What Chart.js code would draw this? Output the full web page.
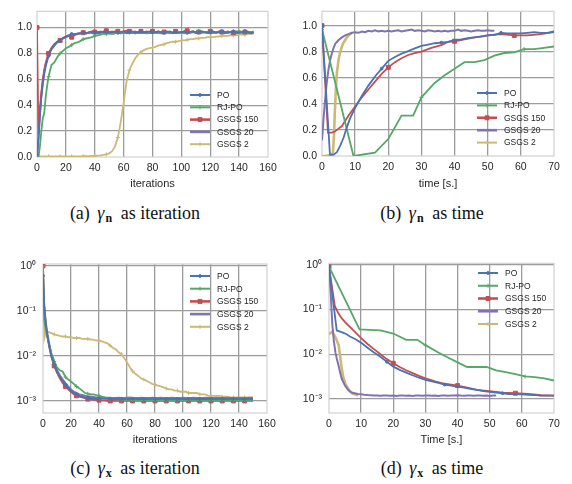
<!DOCTYPE html>
<html>
<head>
<meta charset="utf-8">
<script src="https://cdn.jsdelivr.net/npm/chart.js@4.4.1/dist/chart.umd.min.js"></script>
<style>
  body { margin: 0; background: #fff; width: 572px; height: 484px; position: relative; overflow: hidden; }
  canvas { position: absolute; }
  .cap { position: absolute; text-align: center; font: 18px "Liberation Serif", "Times New Roman", serif; color: #111; line-height: 20px; white-space: nowrap; }
  .cap i { margin: 0 1px 0 3px; }
  .cap sub { font-size: 12px; font-weight: bold; vertical-align: -3px; margin-right: 4px; }
</style>
</head>
<body>
<canvas id="chartA" width="282" height="195" style="left:0;top:0"></canvas>
<canvas id="chartB" width="287" height="195" style="left:285px;top:0"></canvas>
<canvas id="chartC" width="282" height="201" style="left:0;top:250px"></canvas>
<canvas id="chartD" width="287" height="201" style="left:285px;top:250px"></canvas>
<div class="cap" style="left:0;width:270px;top:203px">(a) <i>γ</i><sub>n</sub> as iteration</div>
<div class="cap" style="left:292px;width:280px;top:203px">(b) <i>γ</i><sub>n</sub> as time</div>
<div class="cap" style="left:0;width:270px;top:458px">(c) <i>γ</i><sub>x</sub> as iteration</div>
<div class="cap" style="left:292px;width:280px;top:458px">(d) <i>γ</i><sub>x</sub> as time</div>
<script>
// 系列名称
const labels = ['PO', 'RJ-PO', 'GSGS 150', 'GSGS 20', 'GSGS 2'];

// 迭代次数（a、c 两图共用）
const iterations = [0, 1, 2, 3, 4, 5, 6, 7, 8,
  10, 12, 14, 16, 18, 20, 22, 24, 26, 28, 30,
  32, 34, 36, 38, 40, 42, 44, 46, 48, 50,
  52, 54, 56, 58, 60, 62, 64, 66, 68, 70,
  72, 74, 76, 78, 80, 82, 84, 86, 88, 90,
  92, 94, 96, 98, 100, 102, 104, 106, 108, 110,
  112, 114, 116, 118, 120, 122, 124, 126, 128, 130,
  132, 134, 136, 138, 140, 142, 144, 146, 148, 150];

// (a) γn 随迭代
const poGammaNIter = [0.02, 0.15, 0.32, 0.46, 0.56, 0.64, 0.70, 0.74, 0.78,
  0.83, 0.86, 0.885, 0.90, 0.915, 0.925, 0.935, 0.95, 0.945, 0.955, 0.955,
  0.96, 0.955, 0.96, 0.965, 0.96, 0.965, 0.96, 0.97, 0.965, 0.96,
  0.965, 0.97, 0.96, 0.965, 0.97, 0.96, 0.965, 0.97, 0.96, 0.965,
  0.97, 0.96, 0.965, 0.97, 0.965, 0.96, 0.97, 0.965, 0.96, 0.965,
  0.97, 0.96, 0.965, 0.96, 0.965, 0.97, 0.96, 0.965, 0.97, 0.96,
  0.965, 0.97, 0.965, 0.96, 0.965, 0.97, 0.96, 0.965, 0.97, 0.965,
  0.96, 0.965, 0.97, 0.965, 0.96, 0.965, 0.97, 0.965, 0.96, 0.965];
const rjpoGammaNIter = [0.0, 0.0, 0.08, 0.2, 0.3, 0.34, 0.46, 0.55, 0.62,
  0.71, 0.73, 0.77, 0.8, 0.82, 0.84, 0.85, 0.865, 0.88, 0.885, 0.895,
  0.91, 0.915, 0.92, 0.925, 0.935, 0.94, 0.945, 0.95, 0.95, 0.955,
  0.95, 0.955, 0.96, 0.955, 0.96, 0.955, 0.96, 0.965, 0.955, 0.96,
  0.965, 0.96, 0.955, 0.96, 0.965, 0.96, 0.955, 0.96, 0.965, 0.96,
  0.955, 0.96, 0.965, 0.96, 0.96, 0.955, 0.96, 0.965, 0.97, 0.965,
  0.975, 0.965, 0.96, 0.965, 0.97, 0.965, 0.96, 0.965, 0.97, 0.965,
  0.96, 0.965, 0.97, 0.965, 0.975, 0.965, 0.97, 0.965, 0.96, 0.97];
const gsgs150GammaNIter = [1.0, 0.18, 0.36, 0.5, 0.6, 0.67, 0.72, 0.76, 0.8,
  0.84, 0.87, 0.89, 0.9, 0.92, 0.93, 0.935, 0.925, 0.94, 0.95, 0.955,
  0.96, 0.955, 0.965, 0.97, 0.965, 0.96, 0.97, 0.965, 0.975, 0.965,
  0.97, 0.96, 0.97, 0.965, 0.97, 0.975, 0.97, 0.965, 0.97, 0.96,
  0.97, 0.965, 0.97, 0.96, 0.97, 0.965, 0.97, 0.96, 0.965, 0.97,
  0.965, 0.96, 0.97, 0.965, 0.96, 0.97, 0.975, 0.965, 0.97, 0.96,
  0.965, 0.97, 0.965, 0.96, 0.97, 0.965, 0.96, 0.97, 0.965, 0.96,
  0.97, 0.965, 0.96, 0.97, 0.965, 0.96, 0.965, 0.97, 0.96, 0.965];
const gsgs20GammaNIter = [0.0, 0.14, 0.33, 0.48, 0.58, 0.66, 0.72, 0.76, 0.79,
  0.84, 0.87, 0.89, 0.905, 0.915, 0.93, 0.94, 0.945, 0.95, 0.95, 0.955,
  0.96, 0.955, 0.96, 0.96, 0.965, 0.955, 0.96, 0.965, 0.96, 0.955,
  0.96, 0.965, 0.96, 0.955, 0.96, 0.965, 0.96, 0.96, 0.955, 0.96,
  0.965, 0.96, 0.955, 0.96, 0.96, 0.965, 0.96, 0.955, 0.96, 0.965,
  0.96, 0.955, 0.96, 0.96, 0.965, 0.96, 0.955, 0.96, 0.965, 0.96,
  0.955, 0.96, 0.965, 0.96, 0.955, 0.96, 0.96, 0.965, 0.96, 0.955,
  0.96, 0.965, 0.96, 0.955, 0.96, 0.965, 0.96, 0.96, 0.955, 0.96];
const gsgs2GammaNIter = [0.55, 0.0, 0.005, 0.005, 0.005, 0.005, 0.005, 0.005, 0.005,
  0.005, 0.005, 0.005, 0.005, 0.005, 0.005, 0.005, 0.005, 0.005, 0.005, 0.005,
  0.006, 0.006, 0.007, 0.008, 0.009, 0.011, 0.013, 0.016, 0.02, 0.028,
  0.045, 0.08, 0.15, 0.27, 0.42, 0.58, 0.67, 0.72, 0.76, 0.79,
  0.81, 0.825, 0.835, 0.84, 0.845, 0.85, 0.86, 0.865, 0.87, 0.88,
  0.885, 0.89, 0.89, 0.895, 0.9, 0.9, 0.905, 0.91, 0.91, 0.915,
  0.915, 0.92, 0.92, 0.925, 0.925, 0.925, 0.93, 0.93, 0.935, 0.935,
  0.935, 0.94, 0.94, 0.94, 0.945, 0.945, 0.945, 0.95, 0.95, 0.95];

// (c) γx 随迭代（对数轴）
const poGammaXIter = [0.6, 0.11, 0.05, 0.03, 0.02, 0.014, 0.01, 0.008, 0.0065,
  0.0046, 0.0035, 0.0028, 0.0023, 0.002, 0.0017, 0.0015, 0.0014, 0.0013, 0.00125, 0.0012,
  0.00118, 0.00116, 0.00115, 0.00114, 0.00113, 0.00113, 0.00112, 0.00112, 0.00112, 0.00111,
  0.00111, 0.00112, 0.00111, 0.00111, 0.0011, 0.00111, 0.00112, 0.00111, 0.0011, 0.00111,
  0.00111, 0.0011, 0.00111, 0.00112, 0.00111, 0.0011, 0.00111, 0.00111, 0.0011, 0.00111,
  0.00112, 0.00111, 0.0011, 0.00111, 0.00111, 0.0011, 0.00111, 0.00112, 0.00111, 0.0011,
  0.00111, 0.00111, 0.0011, 0.00111, 0.00112, 0.00111, 0.0011, 0.00111, 0.00111, 0.0011,
  0.00111, 0.00112, 0.00111, 0.0011, 0.00111, 0.00111, 0.0011, 0.00111, 0.00111, 0.0011];
const rjpoGammaXIter = [1.0, 0.06, 0.04, 0.028, 0.02, 0.015, 0.011, 0.0095, 0.0075,
  0.0056, 0.0048, 0.0045, 0.0034, 0.003, 0.0027, 0.0024, 0.0021, 0.0019, 0.0017, 0.0015,
  0.00145, 0.0014, 0.0014, 0.00135, 0.0013, 0.00125, 0.0012, 0.00115, 0.00112, 0.0011,
  0.00108, 0.00107, 0.00107, 0.00106, 0.00106, 0.00106, 0.00105, 0.00106, 0.00105, 0.00105,
  0.00106, 0.00105, 0.00105, 0.00106, 0.00105, 0.00105, 0.00106, 0.00105, 0.00105, 0.00106,
  0.00105, 0.00105, 0.00106, 0.00105, 0.00105, 0.00106, 0.00105, 0.00105, 0.00106, 0.00105,
  0.00105, 0.00106, 0.00105, 0.00105, 0.00106, 0.00105, 0.00105, 0.00106, 0.00105, 0.00105,
  0.00106, 0.00105, 0.00105, 0.00106, 0.00105, 0.00105, 0.00106, 0.00105, 0.00105, 0.00106];
const gsgs150GammaXIter = [1.0, 0.1, 0.045, 0.028, 0.019, 0.013, 0.0095, 0.0075, 0.006,
  0.0042, 0.0032, 0.0025, 0.0021, 0.0018, 0.0016, 0.0014, 0.0013, 0.00125, 0.0012, 0.00115,
  0.0011, 0.00108, 0.00106, 0.00105, 0.00104, 0.00103, 0.00102, 0.00101, 0.001, 0.001,
  0.001, 0.001, 0.001, 0.001, 0.001, 0.001, 0.001, 0.001, 0.001, 0.001,
  0.001, 0.001, 0.001, 0.001, 0.001, 0.001, 0.001, 0.001, 0.001, 0.001,
  0.001, 0.001, 0.001, 0.001, 0.001, 0.001, 0.001, 0.001, 0.001, 0.001,
  0.001, 0.001, 0.001, 0.001, 0.001, 0.001, 0.001, 0.001, 0.001, 0.001,
  0.001, 0.001, 0.001, 0.001, 0.001, 0.001, 0.001, 0.001, 0.001, 0.001];
const gsgs20GammaXIter = [0.15, 0.12, 0.055, 0.033, 0.022, 0.015, 0.011, 0.0085, 0.007,
  0.0049, 0.0037, 0.003, 0.0025, 0.0021, 0.0018, 0.0016, 0.0015, 0.0014, 0.00135, 0.0013,
  0.00128, 0.00125, 0.00123, 0.0012, 0.0012, 0.00119, 0.00118, 0.00118, 0.00117, 0.00117,
  0.00117, 0.00118, 0.00117, 0.00116, 0.00118, 0.00119, 0.00117, 0.00116, 0.00117, 0.00118,
  0.00117, 0.00116, 0.00117, 0.00118, 0.00117, 0.00116, 0.00118, 0.00117, 0.00116, 0.00117,
  0.00118, 0.00117, 0.00116, 0.00117, 0.00118, 0.00117, 0.00116, 0.00117, 0.00118, 0.00117,
  0.00116, 0.00117, 0.00118, 0.00117, 0.00116, 0.00117, 0.00118, 0.00117, 0.00116, 0.00117,
  0.00118, 0.00117, 0.00116, 0.00117, 0.00118, 0.00117, 0.00116, 0.00117, 0.00118, 0.00117];
const gsgs2GammaXIter = [1.0, 0.025, 0.033, 0.034, 0.034, 0.033, 0.032, 0.031, 0.03,
  0.029, 0.028, 0.027, 0.027, 0.026, 0.026, 0.025, 0.025, 0.025, 0.024, 0.024,
  0.024, 0.023, 0.023, 0.022, 0.022, 0.021, 0.02, 0.019, 0.017, 0.015,
  0.014, 0.012, 0.011, 0.009, 0.0072, 0.0056, 0.0046, 0.004, 0.0036, 0.0032,
  0.003, 0.0028, 0.0026, 0.0024, 0.0023, 0.0022, 0.0021, 0.002, 0.0019, 0.0018,
  0.0018, 0.0017, 0.0017, 0.0016, 0.0016, 0.0016, 0.0015, 0.0015, 0.0015, 0.0015,
  0.0014, 0.0014, 0.0014, 0.0013, 0.0013, 0.0013, 0.0013, 0.0013, 0.00125, 0.00125,
  0.00125, 0.0012, 0.0012, 0.0012, 0.0012, 0.0012, 0.0012, 0.0012, 0.0012, 0.0012];

// (b)(d) 随时间：各算法的采样时刻
const poTime = [0, 2.4, 3.5, 4.5, 5.5, 6.5, 7.5, 8.5,
  10, 12, 14, 16, 18, 20, 22, 24, 26, 28, 30, 32, 34, 36, 38, 40,
  42, 44, 46, 48, 50, 52, 54, 56, 58, 60, 62, 64, 66, 68, 70];
const poGammaNTime = [1.0, 0.01, 0.01, 0.03, 0.08, 0.14, 0.22, 0.29,
  0.37, 0.46, 0.54, 0.61, 0.67, 0.73, 0.76, 0.785, 0.805, 0.825, 0.845, 0.855, 0.865, 0.87, 0.875, 0.89,
  0.895, 0.905, 0.91, 0.915, 0.925, 0.93, 0.945, 0.94, 0.94, 0.94, 0.945, 0.95, 0.945, 0.945, 0.955];
const poGammaXTime = [0.9, 0.034, 0.032, 0.03, 0.028, 0.025, 0.023, 0.021,
  0.018, 0.014, 0.011, 0.0088, 0.0068, 0.0053, 0.0045, 0.0039, 0.0034, 0.003, 0.0027, 0.0025, 0.0023, 0.0021, 0.002, 0.0019,
  0.0018, 0.0017, 0.0016, 0.0015, 0.00145, 0.0014, 0.00135, 0.0013, 0.0013, 0.00128, 0.00125, 0.00123, 0.0012, 0.0012, 0.0012];

const rjpoTime = [0, 9.5, 16, 20, 24, 27.5, 30, 34, 37, 40, 43, 46, 49, 52, 55, 58, 61, 64, 67, 70];
const rjpoGammaNTime = [0.97, 0.0, 0.025, 0.13, 0.31, 0.31, 0.45, 0.56, 0.62, 0.67,
  0.72, 0.72, 0.735, 0.77, 0.79, 0.795, 0.82, 0.82, 0.83, 0.84];
const rjpoGammaXTime = [0.9, 0.036, 0.034, 0.029, 0.021, 0.021, 0.016, 0.011, 0.0085, 0.0066,
  0.0052, 0.0052, 0.0052, 0.0044, 0.004, 0.0036, 0.0032, 0.0031, 0.0029, 0.0026];

const gsgs150Time = [0, 1.8, 3, 4, 5, 6, 8, 10, 12, 14, 16, 18, 20, 22, 24, 26, 28, 30,
  33, 36, 38, 40, 43, 46, 50, 54, 58, 62, 66, 70];
const gsgs150GammaNTime = [1.0, 0.18, 0.18, 0.19, 0.21, 0.23, 0.31, 0.38, 0.45, 0.51, 0.57, 0.63, 0.68, 0.72, 0.75, 0.775, 0.79, 0.8,
  0.83, 0.85, 0.875, 0.88, 0.895, 0.91, 0.925, 0.935, 0.925, 0.925, 0.935, 0.95];
const gsgs150GammaXTime = [0.9, 0.12, 0.08, 0.063, 0.052, 0.044, 0.032, 0.023, 0.017, 0.013, 0.01, 0.0078, 0.0063, 0.0052, 0.0044, 0.0038, 0.0033, 0.0029,
  0.0025, 0.0022, 0.0021, 0.002, 0.0018, 0.0016, 0.0015, 0.0014, 0.00135, 0.0013, 0.00122, 0.0012];

const gsgs20Time = [0, 0.5, 1, 1.5, 2, 2.5, 3, 3.5, 4,
  5, 6, 7, 8, 9, 10, 11, 12, 13, 14, 15, 16, 17, 18, 19, 20, 21, 22, 23, 24,
  25, 26, 27, 28, 29, 30, 31, 32, 33, 34, 35, 36, 37, 38, 39, 40, 41, 42, 43, 44,
  45, 46, 47, 48, 49, 50, 51, 52];
const gsgs20GammaNTime = [0.12, 0.3, 0.45, 0.58, 0.67, 0.74, 0.79, 0.83, 0.86,
  0.89, 0.91, 0.925, 0.935, 0.945, 0.95, 0.945, 0.955, 0.95, 0.96, 0.955, 0.965, 0.955, 0.96, 0.955, 0.96, 0.955, 0.96, 0.965, 0.955,
  0.96, 0.965, 0.97, 0.96, 0.965, 0.96, 0.955, 0.965, 0.96, 0.955, 0.96, 0.955, 0.96, 0.955, 0.96, 0.96, 0.97, 0.96, 0.965, 0.96,
  0.955, 0.96, 0.965, 0.96, 0.96, 0.965, 0.96, 0.96];
const gsgs20GammaXTime = [0.9, 0.25, 0.05, 0.02, 0.011, 0.0075, 0.0055, 0.0038, 0.0028,
  0.002, 0.0016, 0.0014, 0.00135, 0.0013, 0.00128, 0.00125, 0.00123, 0.00122, 0.0012, 0.00121, 0.00119, 0.0012, 0.00121, 0.00119, 0.0012, 0.00118, 0.0012, 0.00121, 0.00119,
  0.0012, 0.00118, 0.0012, 0.00121, 0.00119, 0.0012, 0.00121, 0.00119, 0.0012, 0.00118, 0.0012, 0.00121, 0.00119, 0.0012, 0.00121, 0.00122, 0.0012, 0.00119, 0.0012, 0.00121,
  0.00119, 0.0012, 0.00121, 0.00119, 0.0012, 0.00118, 0.0012, 0.00121];

const gsgs2Time = [0, 1, 2, 3, 3.3, 3.6, 3.9, 4.2, 4.5, 5, 5.5, 6, 6.5, 7, 7.5, 8, 8.5, 9];
const gsgs2GammaNTime = [0.0, 0.0, 0.005, 0.01, 0.03, 0.15, 0.35, 0.52, 0.64, 0.74, 0.8, 0.84, 0.87, 0.89, 0.91, 0.925, 0.935, 0.945];
const gsgs2GammaXTime = [0.028, 0.032, 0.024, 0.016, 0.011, 0.0075, 0.0052, 0.0038, 0.003, 0.0023, 0.0019, 0.0017, 0.0015, 0.0014, 0.0013, 0.0013, 0.00125, 0.0012];

// 刻度
const iterTicks = [0, 20, 40, 60, 80, 100, 120, 140, 160];
const timeTicks = [0, 10, 20, 30, 40, 50, 60, 70];
const gammaNTicks = [0, 0.2, 0.4, 0.6, 0.8, 1.0];
const logTicks = [1, 0.1, 0.01, 0.001];
const logTickLabels = ['10⁰', '10⁻¹', '10⁻²', '10⁻³'];

// 样式
const COLORS = ['#4C72B0', '#55A868', '#C44E52', '#8172B2', '#CCB974'];
const STYLES = ['circle', 'cross', 'rect', false, 'cross'];
const RADII = [1.4, 2, 2.8, 0, 2];
const WIDTHS = [1.8, 1.8, 1.8, 2, 1.8];
const GRID = '#9c9c9c';
const FRAME = '#d0d0d0';
const TEXT = '#262626';
const FONT = '"Liberation Sans", Arial, sans-serif';

// 按 x 间隔放置标记点
function markerRadii(xs, period, r) {
  if (!period || !r) return 0;
  let last = -1;
  return xs.map(x => {
    const k = Math.floor(x / period + 1e-9);
    if (k !== last) { last = k; return r; }
    return 0;
  });
}

function series(i, xs, ys, period, width) {
  return {
    label: labels[i],
    data: xs.map((x, j) => ({ x: x, y: ys[j] })),
    borderColor: COLORS[i],
    backgroundColor: COLORS[i],
    borderWidth: width || WIDTHS[i],
    pointStyle: STYLES[i] || 'circle',
    pointRadius: markerRadii(xs, period, RADII[i]),
    pointBackgroundColor: COLORS[i],
    pointBorderColor: COLORS[i],
    pointBorderWidth: 1,
    pointHoverRadius: 0,
    tension: 0,
    legendIndex: i
  };
}

// 绘图区边框
const framePlugin = {
  id: 'frame',
  beforeDatasetsDraw(chart) {
    const { ctx, chartArea: a } = chart;
    ctx.save();
    ctx.strokeStyle = FRAME;
    ctx.lineWidth = 1.2;
    ctx.strokeRect(a.left, a.top, a.right - a.left, a.bottom - a.top);
    ctx.restore();
  }
};

// 图内图例
const insideLegend = {
  id: 'insideLegend',
  afterDraw(chart, args, opts) {
    const ctx = chart.ctx;
    ctx.save();
    ctx.font = '8.5px ' + FONT;
    ctx.textBaseline = 'middle';
    chart.data.datasets.forEach((ds, n) => {
      const i = ds.legendIndex;
      const y = opts.y + n * opts.step;
      ctx.strokeStyle = COLORS[i];
      ctx.fillStyle = COLORS[i];
      ctx.lineWidth = (i === 2 || i === 3) ? 2.6 : 2;
      ctx.beginPath();
      ctx.moveTo(opts.x, y);
      ctx.lineTo(opts.x + 20, y);
      ctx.stroke();
      if (STYLES[i]) {
        ctx.lineWidth = 1;
        Chart.helpers.drawPoint(ctx, { pointStyle: STYLES[i], radius: RADII[i], rotation: 0, borderWidth: 1 }, opts.x + 10, y);
      }
      ctx.fillStyle = TEXT;
      ctx.fillText(ds.label, opts.x + 27, y + 0.5);
    });
    ctx.restore();
  }
};

function gridColor(c) {
  const v = c.tick ? c.tick.value : null;
  if (v === c.scale.min || v === c.scale.max) return 'rgba(0,0,0,0)';
  return GRID;
}

function makeChart(id, cfg) {
  const logY = cfg.yType === 'logarithmic';
  return new Chart(document.getElementById(id), {
    type: 'line',
    data: { datasets: cfg.datasets },
    options: {
      animation: false,
      responsive: false,
      devicePixelRatio: 1,
      layout: { padding: { top: cfg.padTop, right: cfg.padRight, left: 0, bottom: 0 } },
      plugins: {
        legend: { display: false },
        tooltip: { enabled: false },
        insideLegend: cfg.legend
      },
      scales: {
        x: {
          type: 'linear',
          min: cfg.xTicks[0],
          max: cfg.xTicks[cfg.xTicks.length - 1],
          afterBuildTicks: s => { s.ticks = cfg.xTicks.map(v => ({ value: v })); },
          afterFit: s => { s.height = cfg.xHeight; },
          ticks: { font: { family: FONT, size: 10.5 }, color: TEXT, padding: 5, maxRotation: 0, callback: v => String(v) },
          grid: { color: gridColor, lineWidth: 1.3, drawTicks: false },
          border: { display: false },
          title: { display: true, text: cfg.xTitle, font: { family: FONT, size: 11 }, color: TEXT, padding: { top: 2, bottom: 4 } }
        },
        y: {
          type: cfg.yType,
          min: cfg.yMin,
          max: cfg.yMax,
          afterBuildTicks: s => { s.ticks = cfg.yTicks.map(v => ({ value: v })); },
          afterFit: s => { s.width = cfg.yWidth; },
          ticks: {
            font: { family: FONT, size: 10.5 }, color: TEXT, padding: logY ? 7 : 5,
            callback: (v, idx) => logY ? logTickLabels[idx] : Number(v).toFixed(1)
          },
          grid: { color: gridColor, lineWidth: 1.3, drawTicks: false },
          border: { display: false }
        }
      }
    },
    plugins: [framePlugin, insideLegend]
  });
}

// (a)
makeChart('chartA', {
  datasets: [
    series(0, iterations, poGammaNIter, 8),
    series(1, iterations, rjpoGammaNIter, 8),
    series(2, iterations, gsgs150GammaNIter, 8),
    series(3, iterations, gsgs20GammaNIter, 0),
    series(4, iterations, gsgs2GammaNIter, 8)
  ],
  xTicks: iterTicks, xTitle: 'iterations',
  yType: 'linear', yMin: 0, yMax: 1.125, yTicks: gammaNTicks,
  yWidth: 37, xHeight: 38, padTop: 5, padRight: 14,
  legend: { x: 190, y: 95, step: 12.3 }
});

// (b)
makeChart('chartB', {
  datasets: [
    series(0, poTime, poGammaNTime, 18),
    series(1, rjpoTime, rjpoGammaNTime, 30),
    series(2, gsgs150Time, gsgs150GammaNTime, 19.3),
    series(3, gsgs20Time, gsgs20GammaNTime, 0),
    series(4, gsgs2Time, gsgs2GammaNTime, 0, 2.6)
  ],
  xTicks: timeTicks, xTitle: 'time [s.]',
  yType: 'linear', yMin: 0, yMax: 1.11, yTicks: gammaNTicks,
  yWidth: 37, xHeight: 39, padTop: 4, padRight: 18,
  legend: { x: 192, y: 93, step: 12.4 }
});

// (c)
makeChart('chartC', {
  datasets: [
    series(0, iterations, poGammaXIter, 8),
    series(1, iterations, rjpoGammaXIter, 8),
    series(2, iterations, gsgs150GammaXIter, 8),
    series(3, iterations, gsgs20GammaXIter, 0),
    series(4, iterations, gsgs2GammaXIter, 8)
  ],
  xTicks: iterTicks, xTitle: 'iterations',
  yType: 'logarithmic', yMin: 0.00054, yMax: 1.1, yTicks: logTicks,
  yWidth: 43, xHeight: 38, padTop: 14, padRight: 15,
  legend: { x: 190, y: 26, step: 12.7 }
});

// (d)
makeChart('chartD', {
  datasets: [
    series(0, poTime, poGammaXTime, 18),
    series(1, rjpoTime, rjpoGammaXTime, 30),
    series(2, gsgs150Time, gsgs150GammaXTime, 19.3),
    series(3, gsgs20Time, gsgs20GammaXTime, 0),
    series(4, gsgs2Time, gsgs2GammaXTime, 0, 2.6)
  ],
  xTicks: timeTicks, xTitle: 'Time [s.]',
  yType: 'logarithmic', yMin: 0.00049, yMax: 1.07, yTicks: logTicks,
  yWidth: 44, xHeight: 38, padTop: 13, padRight: 18,
  legend: { x: 193, y: 23, step: 12.75 }
});
</script>
</body>
</html>
